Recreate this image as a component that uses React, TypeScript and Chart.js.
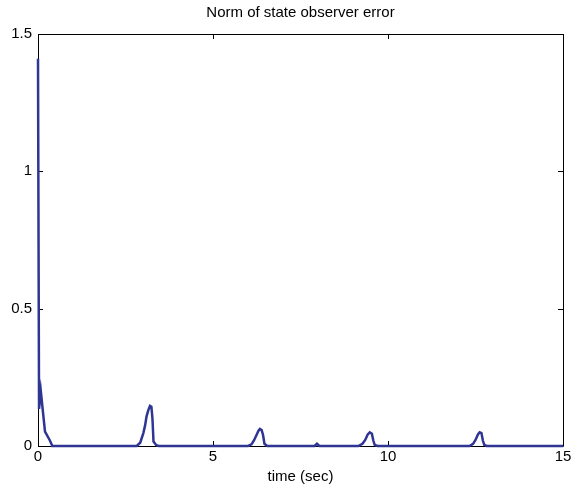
import React, { useEffect, useRef } from "react";
import { Chart, registerables } from "chart.js";

Chart.register(...registerables);

const chartTitle = "Norm of state observer error";
const xAxisTitle = "time (sec)";
const xTicks = [0, 5, 10, 15];
const yTicks = [0, 0.5, 1, 1.5];

const times = [
  0, 0.03, 0.08, 0.2, 0.34, 0.41,
  2.82, 2.92, 3.01, 3.06, 3.1, 3.15, 3.2, 3.24, 3.27, 3.3, 3.38, 3.45,
  6.0, 6.1, 6.17, 6.25, 6.3, 6.34, 6.39, 6.43, 6.47, 6.55,
  7.9, 7.97, 8.04,
  9.15, 9.27, 9.35, 9.42, 9.48, 9.54, 9.58, 9.62, 9.7,
  12.33, 12.43, 12.5, 12.57, 12.62, 12.67, 12.71, 12.75, 12.82,
  15,
];
const errorNorm = [
  1.41, 0.135, 0.2, 0.052, 0.02, 0,
  0, 0.012, 0.047, 0.075, 0.107, 0.13, 0.146, 0.143, 0.1, 0.016, 0.003, 0,
  0, 0.006, 0.02, 0.042, 0.056, 0.062, 0.058, 0.04, 0.008, 0,
  0, 0.008, 0,
  0, 0.008, 0.022, 0.042, 0.05, 0.045, 0.02, 0.004, 0,
  0, 0.008, 0.022, 0.042, 0.05, 0.047, 0.02, 0.004, 0,
  0,
];

const FONT = "'Liberation Sans', Arial, Helvetica, sans-serif";

export default function App() {
  const ref = useRef<HTMLCanvasElement | null>(null);

  useEffect(() => {
    if (!ref.current) return;
    const frame = {
      id: "frame",
      beforeDatasetsDraw(chart: any) {
        const { ctx, chartArea } = chart;
        const { left, right, top, bottom } = chartArea;
        const xs = chart.scales.x;
        const ys = chart.scales.y;
        ctx.save();
        ctx.strokeStyle = "#000";
        ctx.lineWidth = 1;
        ctx.beginPath();
        ctx.rect(Math.round(left) + 0.5, Math.round(top) + 0.5, Math.round(right - left), Math.round(bottom - top));
        const L = 5;
        xTicks.forEach((v) => {
          const px = Math.round(xs.getPixelForValue(v)) + 0.5;
          ctx.moveTo(px, bottom);
          ctx.lineTo(px, bottom - L);
          ctx.moveTo(px, top);
          ctx.lineTo(px, top + L);
        });
        yTicks.forEach((v) => {
          const py = Math.round(ys.getPixelForValue(v)) + 0.5;
          ctx.moveTo(left, py);
          ctx.lineTo(left + L, py);
          ctx.moveTo(right, py);
          ctx.lineTo(right - L, py);
        });
        ctx.stroke();
        ctx.restore();
      },
      afterDraw(chart: any) {
        const { ctx, chartArea } = chart;
        ctx.save();
        ctx.fillStyle = "#000";
        ctx.font = `15px ${FONT}`;
        ctx.textAlign = "center";
        ctx.textBaseline = "middle";
        ctx.fillText(chartTitle, (chartArea.left + chartArea.right) / 2, 13);
        ctx.restore();
      },
    };
    const bg = {
      id: "bg",
      beforeDraw(chart: any) {
        const { ctx, width, height } = chart;
        ctx.save();
        ctx.fillStyle = "#fff";
        ctx.fillRect(0, 0, width, height);
        ctx.restore();
      },
    };

    const chart = new Chart(ref.current, {
      type: "line",
      data: {
        datasets: [
          {
            data: times.map((t, i) => ({ x: t, y: errorNorm[i] })),
            borderColor: "#2E3592",
            borderWidth: 2.5,
            pointRadius: 0,
            tension: 0,
            clip: false as any,
          },
        ],
      },
      options: {
        animation: false,
        responsive: true,
        maintainAspectRatio: false,
        layout: { padding: { top: 34, right: 8, left: 0, bottom: 0 } },
        plugins: { legend: { display: false }, tooltip: { enabled: false }, title: { display: false } },
        scales: {
          x: {
            type: "linear",
            min: 0,
            max: 15,
            afterBuildTicks: (s: any) => {
              s.ticks = xTicks.map((v) => ({ value: v }));
            },
            afterFit: (s: any) => {
              s.height = 45;
              s.paddingLeft = 0;
              s.paddingRight = 0;
            },
            grid: { display: false, drawTicks: false },
            border: { display: false },
            ticks: {
              color: "#000",
              font: { family: FONT, size: 15 },
              padding: 2,
              maxRotation: 0,
              autoSkip: false,
              callback: (v: any) => String(v),
            },
            title: {
              display: true,
              text: xAxisTitle,
              color: "#000",
              font: { family: FONT, size: 15 },
              padding: { top: 0, bottom: 5 },
            },
          },
          y: {
            type: "linear",
            min: 0,
            max: 1.5,
            afterBuildTicks: (s: any) => {
              s.ticks = yTicks.map((v) => ({ value: v }));
            },
            afterFit: (s: any) => {
              s.width = 38;
              s.paddingTop = 0;
              s.paddingBottom = 0;
            },
            grid: { display: false, drawTicks: false },
            border: { display: false },
            ticks: {
              color: "#000",
              font: { family: FONT, size: 15 },
              padding: 6,
              callback: (v: any) => String(v),
            },
          },
        },
      },
      plugins: [bg, frame],
    });
    return () => chart.destroy();
  }, []);

  return (
    <div style={{ position: "fixed", left: 0, top: 0, width: 571, height: 491, background: "#fff" }}>
      <canvas ref={ref} />
    </div>
  );
}
